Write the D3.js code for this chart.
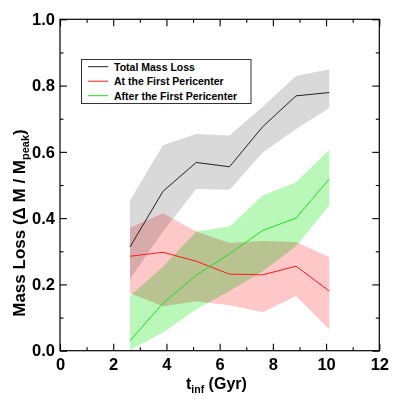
<!DOCTYPE html>
<html>
<head>
<meta charset="utf-8">
<script src="https://cdn.jsdelivr.net/npm/d3@7"></script>
<style>
  body { margin: 0; background: #fff; }
  svg { display: block; font-family: "Liberation Sans", Arial, sans-serif; font-weight: bold; }
  .band { mix-blend-mode: multiply; }
  .axis text { font-size: 16.5px; font-weight: bold; fill: #000; }
  .axis line { stroke: #000; stroke-width: 1.1; }
</style>
</head>
<body>
<div id="chart"></div>
<script>
// infall time bins (Gyr)
const tInf = [2.63, 3.87, 5.12, 6.37, 7.62, 8.87, 10.12];

// total mass loss: median and spread
const totalMid = [0.313, 0.481, 0.568, 0.555, 0.676, 0.769, 0.779];
const totalLow = [0.216, 0.360, 0.488, 0.486, 0.598, 0.669, 0.732];
const totalHigh = [0.453, 0.620, 0.654, 0.649, 0.736, 0.829, 0.849];

// mass loss at the first pericenter
const periMid = [0.285, 0.297, 0.270, 0.231, 0.229, 0.255, 0.180];
const periLow = [0.173, 0.134, 0.149, 0.137, 0.116, 0.165, 0.064];
const periHigh = [0.371, 0.415, 0.360, 0.325, 0.331, 0.328, 0.283];

// mass loss after the first pericenter
const afterMid = [0.030, 0.143, 0.228, 0.292, 0.363, 0.400, 0.518];
const afterLow = [0.002, 0.055, 0.125, 0.180, 0.240, 0.315, 0.438];
const afterHigh = [0.165, 0.253, 0.360, 0.375, 0.468, 0.508, 0.606];

const xTicks = [0, 2, 4, 6, 8, 10, 12];
const xMinor = [1, 3, 5, 7, 9, 11];
const yTicks = [0, 0.2, 0.4, 0.6, 0.8, 1.0];
const yMinor = [0.1, 0.3, 0.5, 0.7, 0.9];

const seriesNames = ['Total Mass Loss', 'At the First Pericenter', 'After the First Pericenter'];

const svgWidth = 399, svgHeight = 399;
const plotLeft = 60, plotRight = 379.3, plotTop = 19.3, plotBottom = 350.7;

const svg = d3.select('#chart')
  .append('svg')
  .attr('width', svgWidth)
  .attr('height', svgHeight);

const x = d3.scaleLinear().domain([0, 12]).range([plotLeft, plotRight]);
const y = d3.scaleLinear().domain([0, 1]).range([plotBottom, plotTop]);

const series = [
  { name: seriesNames[0], mid: totalMid, low: totalLow, high: totalHigh, fill: '#d9d9d9', stroke: '#222' },
  { name: seriesNames[1], mid: periMid, low: periLow, high: periHigh, fill: '#ffc8c8', stroke: '#ff1a1a' },
  { name: seriesNames[2], mid: afterMid, low: afterLow, high: afterHigh, fill: '#b9f8b9', stroke: '#1ee01e' }
];

const area = d3.area()
  .x(d => x(d.t))
  .y0(d => y(d.lo))
  .y1(d => y(d.hi));

const line = d3.line()
  .x(d => x(d.t))
  .y(d => y(d.v));

const bands = svg.append('g').style('isolation', 'isolate');
series.forEach(s => {
  const pts = tInf.map((t, i) => ({ t: t, lo: s.low[i], hi: s.high[i] }));
  bands.append('path')
    .attr('class', 'band')
    .attr('d', area(pts))
    .attr('fill', s.fill);
});

series.forEach(s => {
  const pts = tInf.map((t, i) => ({ t: t, v: s.mid[i] }));
  svg.append('path')
    .attr('d', line(pts))
    .attr('fill', 'none')
    .attr('stroke', s.stroke)
    .attr('stroke-width', 1);
});

// axes, ticks pointing inward
function addAxis(axisFn, scale, ticks, size, labels, transform) {
  const ax = axisFn(scale).tickValues(ticks).tickSize(-size).tickPadding(labels ? 7.5 : 0);
  ax.tickFormat(labels ? d3.format('.1f') : '');
  const g = svg.append('g')
    .attr('class', 'axis')
    .attr('transform', transform)
    .call(ax);
  g.select('.domain').remove();
  return g;
}

const xb = addAxis(d3.axisBottom, x, xTicks, 7, true, `translate(0,${plotBottom})`);
xb.selectAll('text').text(d => d3.format('d')(d));
addAxis(d3.axisBottom, x, xMinor, 3.5, false, `translate(0,${plotBottom})`);
addAxis(d3.axisTop, x, xTicks, 7, false, `translate(0,${plotTop})`);
addAxis(d3.axisTop, x, xMinor, 3.5, false, `translate(0,${plotTop})`);

const yl = addAxis(d3.axisLeft, y, yTicks, 7, true, `translate(${plotLeft},0)`);
yl.selectAll('text').attr('x', -5);
addAxis(d3.axisLeft, y, yMinor, 3.5, false, `translate(${plotLeft},0)`);
addAxis(d3.axisRight, y, yTicks, 7, false, `translate(${plotRight},0)`);
addAxis(d3.axisRight, y, yMinor, 3.5, false, `translate(${plotRight},0)`);

svg.append('rect')
  .attr('x', plotLeft)
  .attr('y', plotTop)
  .attr('width', plotRight - plotLeft)
  .attr('height', plotBottom - plotTop)
  .attr('fill', 'none')
  .attr('stroke', '#000')
  .attr('stroke-width', 1.2);

// axis titles
const xt = svg.append('text')
  .attr('x', 186)
  .attr('y', 389)
  .attr('font-size', 16);
xt.append('tspan').text('t');
xt.append('tspan').attr('font-size', 10.5).attr('dy', 4).text('inf');
xt.append('tspan').attr('dy', -4).text(' (Gyr)');

const yt = svg.append('text')
  .attr('transform', 'translate(25,223) rotate(-90)')
  .attr('text-anchor', 'middle')
  .attr('font-size', 17);
yt.append('tspan').text('Mass Loss (\u0394 M / M');
yt.append('tspan').attr('font-size', 11).attr('dy', 4).text('peak');
yt.append('tspan').attr('dy', -4).text(')');

// legend
const legend = svg.append('g');
legend.append('rect')
  .attr('x', 81.5)
  .attr('y', 59.5)
  .attr('width', 169.5)
  .attr('height', 44)
  .attr('fill', '#fff')
  .attr('stroke', '#333')
  .attr('stroke-width', 1);

series.forEach((s, i) => {
  const ly = 66.7 + i * 14.5;
  legend.append('line')
    .attr('x1', 88).attr('x2', 108)
    .attr('y1', ly).attr('y2', ly)
    .attr('stroke', s.stroke)
    .attr('stroke-width', 1);
  legend.append('text')
    .attr('x', 114)
    .attr('y', ly + 3.8)
    .attr('font-size', 10.5)
    .text(s.name);
});
</script>
</body>
</html>
